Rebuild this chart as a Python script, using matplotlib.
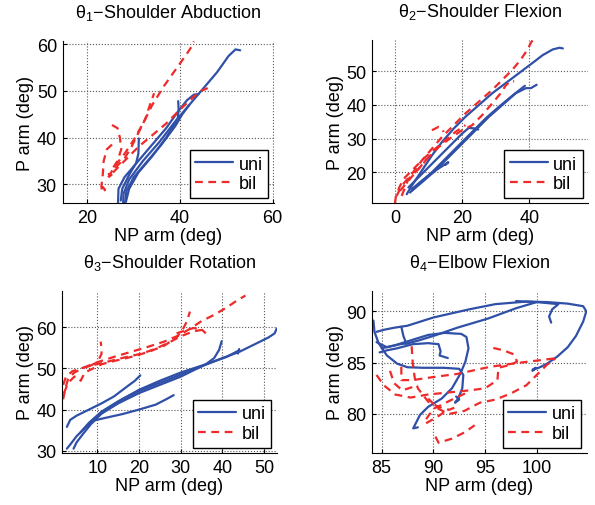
import matplotlib
matplotlib.use("Agg")
import matplotlib.pyplot as plt
import numpy as np

plt.rcParams['font.family'] = ['Liberation Sans', 'DejaVu Sans']
plt.rcParams['mathtext.fontset'] = 'custom'
plt.rcParams['mathtext.rm'] = 'Liberation Sans'
plt.rcParams['mathtext.it'] = 'Liberation Sans'

BLUE = '#3050a8'
RED = '#ee2a2a'

# ---- theta1: shoulder abduction (NP arm x, P arm y) ----
abd_uni = [
    [(27.7, 25.9), (27.8, 28), (29, 31), (32, 35), (35.5, 39), (39, 43.5), (42, 47), (45, 50.5),
     (48, 54), (50.5, 57.5), (52, 58.9), (53, 58.7)],
    [(26.6, 25.9), (26.7, 29), (28, 31.5), (31, 35), (34, 38.5), (37, 42), (39.5, 45.5), (41.5, 48),
     (43, 49.2), (44, 49.3)],
    [(28.1, 25.9), (28.4, 28.5), (30, 31.5), (33, 35), (36, 38.5), (39, 42.5), (40.5, 45), (42, 47)],
    [(27.2, 26.5), (27.5, 29), (29, 32), (30.5, 34.5), (31, 36.5), (31.1, 39.8)],
    [(28.3, 26.2), (29, 29), (31, 32.5), (34, 36), (37, 40), (39.5, 44), (39.7, 46), (39.6, 47.8)],
]
abd_bil = [
    [(24.5, 31.5), (26, 34), (28, 36.5), (30, 39.5), (32, 43), (34, 47), (36.5, 51), (39, 54.5),
     (41.5, 58), (42.5, 59.5), (43, 60.6)],
    [(25.5, 32.5), (27, 34), (29, 36), (31, 38), (34, 40.5), (37, 43), (40, 46), (43, 48.8),
     (44.5, 50), (46, 50.6)],
    [(26, 33.5), (28, 35.5), (29.5, 38), (31, 41), (32.5, 44), (33.5, 47), (34.4, 49.5)],
    [(25.3, 42.7), (26.5, 42), (27, 40), (27.3, 37.5), (26.5, 35), (25.5, 33.5)],
    [(25.3, 38.5), (24.2, 37.5), (23.5, 35), (23.3, 32), (23, 29.5), (23.2, 28.2), (23.8, 28.8),
     (23.2, 29.5)],
    [(24.5, 31.5), (25.2, 32), (24.6, 32.2), (24.9, 31.4)],
]

# ---- theta2: shoulder flexion ----
flex_uni = [
    [(3.5, 13.5), (5, 16), (8, 20.5), (11, 25), (14, 29), (17.5, 33), (21, 36.5), (25, 40), (29, 43.5),
     (33, 46.5), (37, 49.5), (41, 52.5), (44, 54.8), (47, 56.5), (49, 57), (50, 56.8)],
    [(4.5, 14), (7, 16.5), (11, 20), (15, 24), (19, 28), (23, 32), (27, 36), (31, 39.5), (35, 42.8),
     (38.7, 45.7)],
    [(5, 14.5), (8, 17), (12, 20.5), (16, 24.5), (20, 28.5), (24, 32.5), (28, 36.5), (32, 40),
     (36, 43.5), (39, 45), (40.5, 45), (42.2, 46)],
    [(4, 15.5), (6, 17.5), (9, 20.5), (13, 24.5), (17, 28.5), (20, 31.5), (22, 33.2), (24, 33),
     (24.8, 32.7)],
    [(5, 15), (8, 17.5), (12, 20.5), (15.9, 23), (15, 22.2)],
]
flex_bil = [
    [(0.5, 13), (2, 16), (5, 19.5), (8, 23.5), (11, 27), (14, 30.5), (17.5, 34), (21, 37.5), (25, 41),
     (29, 44.5), (32, 47.5), (35, 50.5), (37.5, 53.5), (39.5, 56.5), (40.5, 58.5), (41, 59.2)],
    [(1.5, 14.5), (4, 17.5), (7, 21), (10, 24.5), (13, 27.5), (17, 30.5), (20, 32.5), (23, 34),
     (26, 37), (29, 40.5), (31.5, 43.5), (33, 45.8), (34.5, 47.2), (35.5, 47)],
    [(0, 10.8), (0.3, 13), (1.5, 16), (3, 18.5), (6, 21.5), (9, 24.5), (12, 27), (15, 29.5),
     (18, 32), (21, 34)],
    [(11, 32.5), (13, 33.5), (14, 33), (14.5, 32)],
    [(2, 13), (3, 15.5), (4, 18), (6, 20), (8, 22), (9.5, 24)],
]

# ---- theta3: shoulder rotation ----
rot_uni = [
    [(2.7, 30.5), (3.5, 31.5), (5, 33.5), (7, 35.5), (9, 37.5), (12, 40), (16, 42.5), (20, 44.5),
     (25, 46.5), (30, 48.5), (35, 50.5), (40, 52.5), (44, 54), (48, 56), (51, 57.5), (52.5, 58.5),
     (53, 59.7)],
    [(4.3, 30.5), (5, 32), (6.5, 34), (8.5, 36.5), (11, 39), (15, 41.5), (20, 44), (25, 46), (30, 48),
     (33, 49.5), (36, 51), (38, 52.5), (39.2, 54.5), (39.8, 56.6)],
    [(2.7, 35.8), (3.5, 37.5), (5, 38.5), (8, 40), (11, 41.5), (14, 43.2), (17, 45.5), (19, 47),
     (20.3, 48.3)],
    [(7.5, 36), (9, 37.3), (12, 38), (16, 38.9), (20, 40), (24, 41.2), (26.5, 42.5), (28.3, 43.5)],
    [(6, 34.5), (8, 36.8), (11, 39.5), (15, 42), (20, 44.8), (25, 47), (30, 49), (36, 51), (41, 52.8),
     (44, 54.4)],
    [(43.7, 53.6), (44, 54.7)],
]
rot_bil = [
    [(1.8, 42.5), (2.3, 45), (3, 47.5), (4.5, 49), (7, 50.3), (10, 51.5), (14, 52.8), (18, 54),
     (22, 55.2), (26, 56.5), (29.5, 58), (32, 59.5), (35, 61.5), (38, 63), (41, 64.8), (43.5, 66.5),
     (45.5, 67.7)],
    [(1.8, 46), (2.5, 48), (4, 49.3), (6, 50), (9, 50.8), (12, 51.5), (15, 52.3), (18, 53), (21, 53.7),
     (24, 54.8), (27, 56.2), (30, 57.8), (33, 59), (36, 59.5)],
    [(2, 44), (3, 46.5), (4.5, 48), (5.5, 47.8), (6, 47), (7, 49), (9, 50), (11, 51), (14, 51.8),
     (17, 52.5), (20, 53.3), (23, 54.3), (26, 55.5), (29, 57.5), (30.5, 59.5), (31.5, 61.5),
     (32.2, 63.8)],
    [(8, 50.5), (10, 51.5), (11, 53.5), (11, 55), (10.8, 56.5)],
    [(29, 58.5), (31, 59.2), (33, 59.8), (35, 59.5), (36, 58.5)],
]

# ---- theta4: elbow flexion ----
elb_uni = [
    [(84.2, 89.1), (84.3, 88.0), (84.7, 86.9), (85.5, 85.7), (86.5, 84.9), (87.5, 84.55), (89, 84.5),
     (91, 84.5), (92.5, 84.4), (92.9, 83.8), (92.8, 82.5), (92.4, 81.5), (92.1, 81.1), (92.5, 81.4),
     (92.2, 81.7)],
    [(84.5, 88.0), (85.2, 88.2), (86.2, 88.4), (87.5, 88.6), (90, 89.4), (93.5, 90.2), (96, 90.7),
     (99, 90.95), (101, 90.9), (103, 90.75), (104.5, 90.5), (104.8, 90.0), (104.5, 89.0),
     (103.8, 87.6), (103, 86.5), (102, 85.6), (101, 84.9), (100.2, 84.5), (99.6, 84.3),
     (99.9, 84.5), (99.6, 84.2)],
    [(98, 91.0), (100, 90.9), (102.1, 90.7), (101.5, 90.2), (101.2, 89.5), (101.4, 88.9)],
    [(84.5, 87.0), (85.5, 86.5), (86.8, 86.8), (87.6, 86.9), (88.7, 87.2), (90.3, 87.7), (92.3, 88.4),
     (95.3, 89.3), (98, 90.3), (100, 90.9)],
    [(86.9, 88.5), (87.1, 87.6), (87.4, 86.8)],
    [(84.8, 86.0), (85.5, 86.2), (86.5, 86.4), (88, 86.8), (89.5, 86.9), (90.5, 86.8), (90.7, 86.1),
     (90.6, 85.7), (91.4, 85.45)],
    [(85, 86.4), (86.3, 86.7), (87.9, 87.2), (89.5, 87.7), (91.1, 87.9), (92.7, 87.8), (93.2, 87.5),
     (93.4, 86.4), (93.1, 85.1), (92.6, 83.9), (91.8, 82.5), (90.8, 81.5), (89.5, 80.7), (88.7, 79.9),
     (88.2, 78.9), (88.05, 78.6), (88.5, 78.7)],
]
elb_bil = [
    [(86.9, 84.6), (86.9, 83.3), (88, 83.3), (90, 83.6), (92.3, 83.9), (95.5, 84.6), (98.4, 85.0),
     (101.6, 85.4), (102, 85.5)],
    [(84.5, 83.8), (85.2, 82.8), (86.3, 81.9), (87.8, 81.6), (89.5, 81.9), (91.5, 82.1), (93.5, 82.3),
     (95, 82.5), (96.2, 83.3), (96.3, 84.5), (97.5, 84.8), (98.1, 85.1), (97.8, 85.8), (96.8, 86.2),
     (95.5, 86.5)],
    [(87.9, 86.6), (88, 85), (88.2, 83.5), (88.5, 82.5), (89.5, 81.2), (90.5, 80.7), (91.5, 80.4),
     (92.5, 80.8)],
    [(89.5, 81.5), (90.5, 80.5), (91.5, 80), (93, 80.3), (94.5, 81.1), (96, 81.4), (97.5, 82),
     (99, 82.8), (100.2, 84), (101, 84.8), (101.8, 85.4)],
    [(89.3, 79.5), (90, 80.5), (91, 81), (92, 81.5), (93.5, 82.2)],
    [(90.2, 77.8), (90.5, 77.2), (91.8, 77.6), (93, 78.2), (94, 78.9)],
    [(89.3, 79.1), (90.5, 79.8), (91.5, 80.5)],
    [(85.8, 84.2), (86.2, 83.0), (87, 82.3), (88.5, 82.8)],
]

titles = [r'$\theta_1$$-$Shoulder Abduction', r'$\theta_2$$-$Shoulder Flexion',
          r'$\theta_3$$-$Shoulder Rotation', r'$\theta_4$$-$Elbow Flexion']
xticks = [[20, 40, 60], [0, 20, 40], [10, 20, 30, 40, 50], [85, 90, 95, 100]]
yticks = [[30, 40, 50, 60], [20, 30, 40, 50], [30, 40, 50, 60], [80, 85, 90]]
xlims = [(14.6, 60.2), (-6.75, 57.5), (1.6, 53.0), (84.09, 104.84)]
ylims = [(25.9, 60.7), (10.8, 59.3), (29.45, 68.8), (76.2, 91.98)]
uni_sets = [abd_uni, flex_uni, rot_uni, elb_uni]
bil_sets = [abd_bil, flex_bil, rot_bil, elb_bil]

W, H = 595, 506
fig = plt.figure(figsize=(W / 100, H / 100), dpi=100)

# axes boxes in pixels: left, right, top, bottom
boxes = [(62.5, 273.5, 42, 204.3), (372.3, 588, 41, 204.3),
         (62.3, 276.7, 292, 454), (372.3, 586.7, 292, 454)]

for i in range(4):
    l, r, t, b = boxes[i]
    ax = fig.add_axes([l / W, 1 - b / H, (r - l) / W, (b - t) / H])
    for k, tr in enumerate(uni_sets[i]):
        xs, ys = zip(*tr)
        ax.plot(xs, ys, color=BLUE, lw=1.6, solid_capstyle='round',
                label='uni' if k == 0 else None)
    for k, tr in enumerate(bil_sets[i]):
        xs, ys = zip(*tr)
        ax.plot(xs, ys, color=RED, lw=1.6, ls=(0, (3.5, 2.5)),
                label='bil' if k == 0 else None)
    ax.set_xlim(*xlims[i])
    ax.set_ylim(*ylims[i])
    ax.set_xticks(xticks[i])
    ax.set_yticks(yticks[i])
    ax.grid(True, ls=':', color='0.35', lw=0.8)
    ax.spines['top'].set_visible(False)
    ax.spines['right'].set_visible(False)
    ax.tick_params(direction='in', length=3, labelsize=13, pad=4)
    ax.set_xlabel('NP arm (deg)', fontsize=13, labelpad=1)
    ax.set_ylabel('P arm (deg)', fontsize=13, labelpad=2)
    ax.set_title(titles[i], fontsize=13, pad=17)
    leg = ax.legend(loc='lower right', fontsize=13, handlelength=2.1, handletextpad=0.3,
                    borderpad=0.3, labelspacing=0.15, borderaxespad=0.3, fancybox=False,
                    framealpha=1)
    leg.get_frame().set_edgecolor('black')
    leg.get_frame().set_linewidth(1.0)

fig.savefig('out.png', dpi=100)
